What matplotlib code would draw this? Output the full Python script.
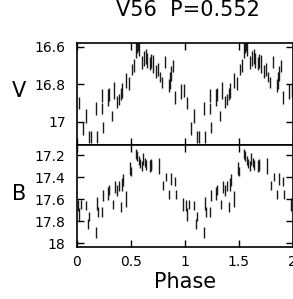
import numpy as np
import matplotlib
matplotlib.use("Agg")
import matplotlib.pyplot as plt
from matplotlib.ticker import FormatStrFormatter, MultipleLocator

title = "V56  P=0.552"

# V band: phase, magnitude, error (one cycle, plotted twice)
v_phase = [0.02, 0.06, 0.083, 0.117, 0.13, 0.18, 0.19, 0.232, 0.236, 0.247,
           0.287, 0.30, 0.324, 0.348, 0.376, 0.39, 0.41, 0.42, 0.456, 0.487,
           0.515, 0.53, 0.55, 0.56, 0.57, 0.575, 0.60, 0.62, 0.64, 0.65,
           0.68, 0.69, 0.71, 0.734, 0.755, 0.77, 0.787, 0.82, 0.85, 0.86,
           0.875, 0.89, 0.91, 0.963, 0.995]
v_mag = [16.90, 17.035, 16.97, 17.08, 17.08, 16.93, 17.08, 16.86, 16.93, 17.03,
         16.87, 16.855, 16.97, 16.83, 16.895, 16.88, 16.85, 16.83, 16.78, 16.795,
         16.72, 16.70, 16.62, 16.60, 16.59, 16.61, 16.685, 16.66, 16.65, 16.67,
         16.69, 16.675, 16.69, 16.73, 16.72, 16.76, 16.79, 16.68, 16.805, 16.78,
         16.74, 16.70, 16.87, 16.84, 16.83]
v_err = [0.031, 0.035, 0.037, 0.03, 0.03, 0.035, 0.03, 0.035, 0.03, 0.031,
         0.045, 0.035, 0.027, 0.045, 0.031, 0.031, 0.031, 0.04, 0.04, 0.035,
         0.031, 0.035, 0.04, 0.031, 0.031, 0.04, 0.035, 0.04, 0.04, 0.04,
         0.035, 0.035, 0.048, 0.035, 0.035, 0.027, 0.031, 0.031, 0.035, 0.045,
         0.04, 0.031, 0.035, 0.04, 0.035]

# B band
b_phase = [0.015, 0.02, 0.035, 0.086, 0.10, 0.117, 0.176, 0.188, 0.20, 0.234,
           0.246, 0.287, 0.30, 0.34, 0.357, 0.376, 0.39, 0.407, 0.42, 0.432,
           0.456, 0.493, 0.50, 0.55, 0.56, 0.577, 0.59, 0.605, 0.615, 0.632,
           0.645, 0.68, 0.685, 0.69, 0.765, 0.80, 0.824, 0.858, 0.87, 0.91,
           0.915, 0.98]
b_mag = [17.66, 17.74, 17.65, 17.66, 17.83, 17.76, 17.90, 17.64, 17.72, 17.72,
         17.57, 17.55, 17.52, 17.65, 17.49, 17.52, 17.48, 17.67, 17.47, 17.43,
         17.60, 17.32, 17.35, 17.19, 17.21, 17.25, 17.28, 17.30, 17.24, 17.27,
         17.29, 17.30, 17.29, 17.29, 17.30, 17.48, 17.40, 17.56, 17.42, 17.44,
         17.56, 17.65]
b_err = [0.05, 0.06, 0.045, 0.04, 0.045, 0.04, 0.05, 0.06, 0.045, 0.045,
         0.05, 0.055, 0.045, 0.04, 0.055, 0.05, 0.045, 0.045, 0.06, 0.055,
         0.07, 0.06, 0.045, 0.045, 0.045, 0.045, 0.04, 0.045, 0.055, 0.04,
         0.045, 0.055, 0.055, 0.04, 0.07, 0.04, 0.04, 0.04, 0.055, 0.04,
         0.04, 0.055]


def two_cycles(ph, mag, err):
    ph = np.asarray(ph)
    return (np.concatenate([ph, ph + 1]), np.concatenate([mag, mag]),
            np.concatenate([err, err]))


fig = plt.figure(figsize=(2.93, 2.99), dpi=100)
ax1 = fig.add_axes([0.262, 0.515, 0.737, 0.341])
ax2 = fig.add_axes([0.262, 0.174, 0.737, 0.341])

for ax, (ph, mag, err), lim, label, ly in [
        (ax1, (v_phase, v_mag, v_err), (17.123, 16.579), "V", 0.525),
        (ax2, (b_phase, b_mag, b_err), (18.036, 17.109), "B", 0.515)]:
    x, y, e = two_cycles(ph, mag, err)
    ax.errorbar(x, y, yerr=e, fmt='none', ecolor='0.1', elinewidth=1, capsize=0)
    ax.set_xlim(0, 2)
    ax.set_ylim(*lim)
    ax.xaxis.set_major_locator(MultipleLocator(0.5))
    ax.yaxis.set_major_locator(MultipleLocator(0.2))
    ax.xaxis.set_major_formatter(FormatStrFormatter('%g'))
    ax.yaxis.set_major_formatter(FormatStrFormatter('%g'))
    ax.tick_params(direction='in', top=True, right=True, length=5, width=1,
                   labelsize=10, color='k')
    ax.tick_params(axis='y', pad=8)
    ax.tick_params(axis='x', pad=5.5)
    for s in ax.spines.values():
        s.set_linewidth(1.2)
    ax.set_ylabel(label, rotation=0, fontsize=15, ha='center', va='center')
    ax.yaxis.set_label_coords(-0.267, ly)

ax1.tick_params(labelbottom=False)
ax2.set_xlabel("Phase", fontsize=15, va='center')
ax2.xaxis.set_label_coords(0.5, -0.348)

fig.text(0.64, 0.965, title, fontsize=15, ha='center', va='center')

fig.savefig("out.png", dpi=100)
